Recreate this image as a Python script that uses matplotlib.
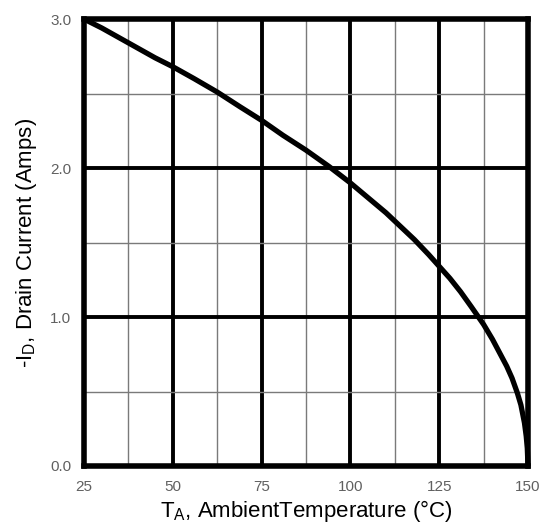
import matplotlib
matplotlib.use("Agg")
import matplotlib.pyplot as plt
from matplotlib.ticker import MultipleLocator

plt.rcParams['font.family'] = ['Liberation Sans', 'DejaVu Sans']
plt.rcParams['mathtext.fontset'] = 'custom'
plt.rcParams['mathtext.rm'] = 'Liberation Sans'

temps = [25, 30, 37.5, 45, 50, 56, 62.5, 69, 75, 81, 87.5, 94, 100, 105, 110, 114, 118, 122, 125, 128, 131, 134, 137.5, 140, 142, 144, 145.5, 147, 148, 149, 149.5, 149.8, 150]
current = [3.0, 2.94, 2.84, 2.74, 2.68, 2.60, 2.51, 2.41, 2.32, 2.22, 2.12, 2.01, 1.90, 1.80, 1.70, 1.61, 1.52, 1.42, 1.34, 1.26, 1.17, 1.07, 0.95, 0.85, 0.76, 0.67, 0.59, 0.49, 0.41, 0.29, 0.20, 0.12, 0.0]
x_ticks = [25, 50, 75, 100, 125, 150]
y_ticks = [0.0, 1.0, 2.0, 3.0]
y_tick_labels = ["0.0", "1.0", "2.0", "3.0"]

fig = plt.figure(figsize=(5.44, 5.29), dpi=100)
ax = fig.add_axes([0.1544, 0.1191, 0.8162, 0.8449])
ax.set_xlim(25, 150)
ax.set_ylim(0, 3.0)

ax.xaxis.set_minor_locator(MultipleLocator(12.5))
ax.yaxis.set_minor_locator(MultipleLocator(0.5))
ax.set_xticks(x_ticks)
ax.set_yticks(y_ticks)
ax.set_yticklabels(y_tick_labels)

ax.grid(which='major', color='black', linewidth=2.8)
ax.grid(which='minor', color='#7a7a7a', linewidth=1.0)
ax.set_axisbelow(True)

for s in ax.spines.values():
    s.set_linewidth(4.0)
    s.set_color('black')

ax.tick_params(which='both', length=0, labelsize=11, labelcolor='#606060')
ax.tick_params(axis='x', pad=10)
ax.tick_params(axis='y', pad=9)

ax.plot(temps, current, color='black', linewidth=3.8, solid_capstyle='butt',
        solid_joinstyle='round', clip_on=False, zorder=3)

ax.set_xlabel(r"T$_\mathregular{A}$, AmbientTemperature (°C)", fontsize=16, labelpad=3)
ax.set_ylabel(r"-I$_\mathregular{D}$, Drain Current (Amps)", fontsize=16, labelpad=8)

fig.savefig("out.png", dpi=100)
